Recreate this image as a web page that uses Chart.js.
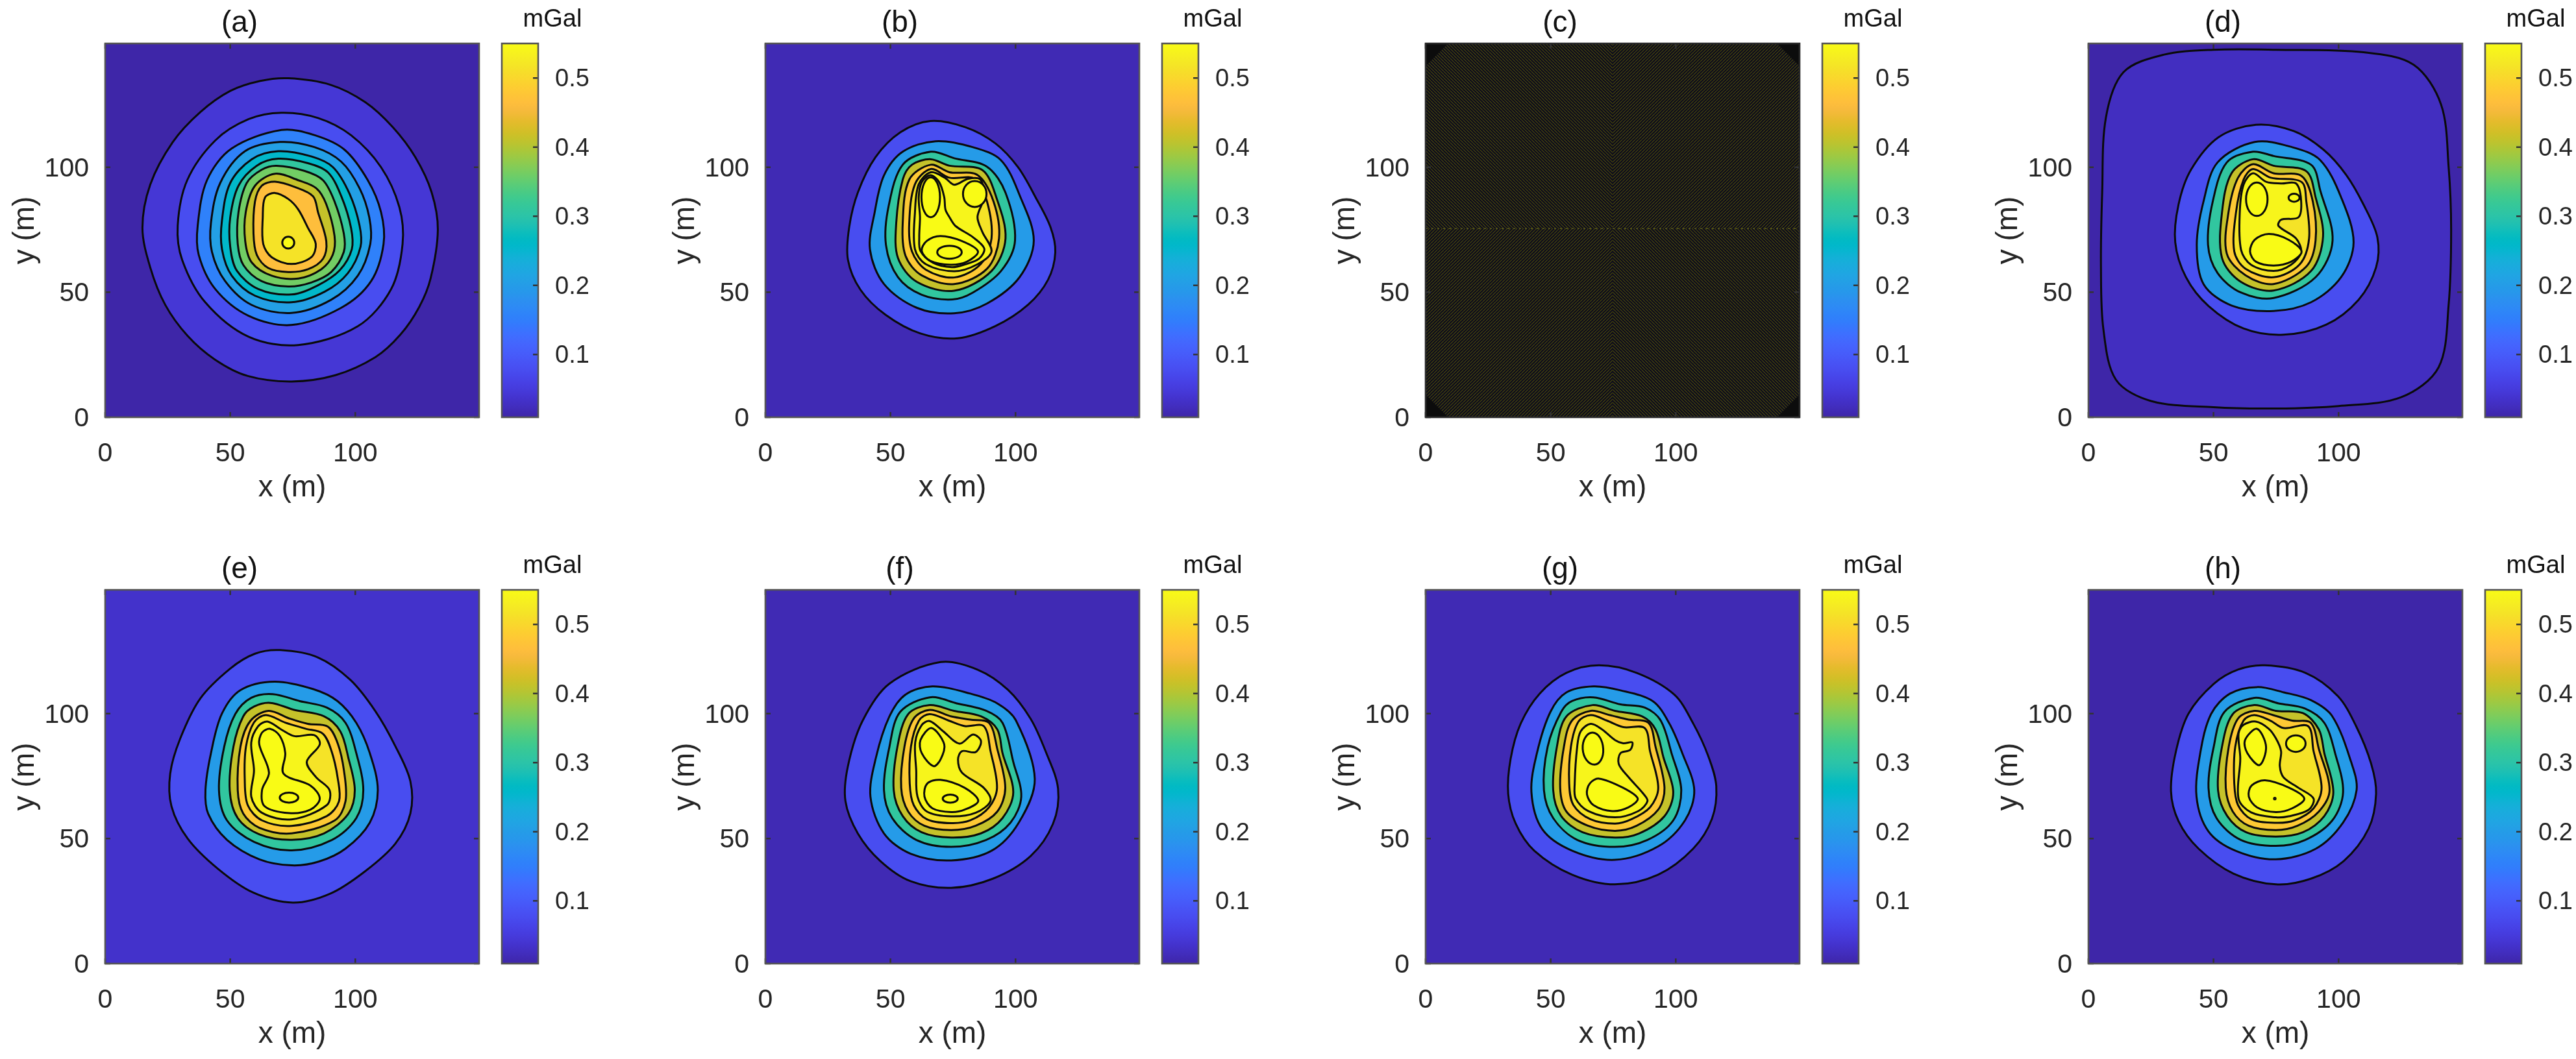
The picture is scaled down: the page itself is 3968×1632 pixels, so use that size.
<!DOCTYPE html>
<html>
<head>
<meta charset="utf-8">
<title>Gravity anomaly maps</title>
<script src="https://cdn.jsdelivr.net/npm/chart.js@4"></script>
<style>
  html, body { margin: 0; padding: 0; background: #fff; overflow: hidden; }
  #page { position: relative; width: 3968px; height: 1632px; background: #fff; }
  canvas { position: absolute; }
</style>
</head>
<body>
<div id="page"></div>
<script>
// ── Data (x, y in metres, levels in mGal) ──
const panelTitles = ['(a)', '(b)', '(c)', '(d)', '(e)', '(f)', '(g)', '(h)'];
const axisMax = 149.5;
const axisTicks = [0, 50, 100];
const colorbarRange = [0.0092, 0.55];
const colorbarTicks = [0.1, 0.2, 0.3, 0.4, 0.5];
const unitLabel = 'mGal';
const xLabel = 'x (m)';
const yLabel = 'y (m)';

const levelsA = [0.012, 0.045, 0.085, 0.16, 0.21, 0.26, 0.31, 0.36, 0.41, 0.46, 0.51, 0.55];
const contoursA = [
  [[73.2,135.6],[90,133],[104,126],[115,116],[124,104],[130.5,90],[133,75],[130.1,55.5],[125.5,44],[118,33],[108,24],[92,16.8],[74.5,14.3],[57,16.5],[44,23],[33,32.5],[24,45],[18,60],[14.9,75.7],[18,93],[27,110],[38,122],[50,130.5],[62,134.5]],
  [[70.5,121.8],[85.1,119.7],[98.3,112.8],[110.3,100],[117.6,84.1],[118.9,69.3],[114.3,51.2],[101,36.4],[77.2,28.9],[57.3,32.2],[40,46],[30.8,62.9],[29,76.7],[32.8,94.8],[44,110.7],[57.3,119.2]],
  [[70.5,114.9],[83.8,112.8],[95.7,107],[105,94.8],[110.3,82],[111.3,69.3],[106.3,54.4],[94.4,43.8],[74.5,36.9],[57.3,40.6],[44,51.3],[37.4,65],[37,76.7],[40.7,94.8],[50.6,107.5]],
  [[69.9,110.1],[83.8,108],[94.4,102.2],[101.7,91.6],[105.6,79.9],[106,69.3],[101,56.6],[90.4,47],[74.5,41.7],[58.6,44.9],[48,54.4],[42.7,66.1],[42.3,77.8],[46,93.7],[55.9,106.4]],
  [[69.2,106.4],[82.5,104.3],[91.1,100],[97.7,89.4],[101.7,76.7],[102.1,68.2],[97,57.6],[87.7,50.2],[74.5,46],[59.9,48.6],[50.6,56.6],[46.7,67.2],[46.7,78.8],[50,93.7],[58.6,103.2]],
  [[69.2,103.4],[81.1,101.6],[89.1,97.9],[94.4,88.4],[98.3,75.7],[98.6,67.2],[93.7,58.7],[85.1,52.8],[74.5,49.1],[61.2,51.3],[52.6,58.7],[50,68.2],[50,79.9],[53.3,92.6],[60.6,100.6]],
  [[68.5,100.6],[79.8,98.5],[87.1,94.8],[91.7,86.3],[95.4,73.5],[95.4,66.1],[90.4,58.1],[82.4,53.9],[73.2,52.3],[62.6,54.4],[55.3,60.8],[53,69.3],[53.3,82],[56.6,93.7],[62.6,99]],
  [[67.9,97.4],[77.2,94.8],[84.4,91.6],[88.4,85.2],[91.7,72.5],[91,65],[86.4,59.2],[77.2,55.5],[66.6,56.6],[58.6,61.9],[56,70.4],[56.2,82],[59.9,92.6]],
  [[67.9,94.2],[75.8,92.1],[83.1,88.4],[85.1,82],[88.4,70.4],[87.1,63.4],[81.1,59.2],[73.2,58.1],[65.2,59.7],[60.6,65],[59.3,73.5],[59.9,86.3],[62.6,92.6]],
  [[67.9,89.7],[73.2,87.3],[77.2,83.1],[81.1,75.7],[84.2,69.3],[82.4,64],[74.5,61.3],[66.6,64],[63.2,69.3],[63,79.9],[63.9,87.9]],
  [[73.2,72.2],[75.6,69.8],[73.2,67.5],[70.8,69.8]]
];

const levelsB = [0.02, 0.085, 0.2, 0.31, 0.41, 0.48, 0.515, 0.535, 0.55, 0.55, 0.55, 0.55, 0.55];
const contoursB = [
  [[66,118.5],[80,116],[92,109.5],[101,100],[108,88],[114,76],[115.9,66],[113,55],[105,45],[92,36.5],[77,31.6],[62,33.5],[48,41],[38,51],[33,63],[33.5,76],[37,90],[44,104],[54,114]],
  [[68,110.4],[83,108],[94.2,102.8],[101.6,88.9],[107.3,70.7],[101.6,56],[88.6,45.5],[75.5,41.6],[60.5,43.8],[47.4,53.3],[41.8,67.2],[43.7,82],[47.4,96.7],[54.9,106.2]],
  [[66.1,106.2],[75.5,103.6],[88.6,100.2],[96,89.8],[99.8,70.7],[94.2,58.5],[83,49.9],[74.7,47.1],[62.4,49],[53,56],[48.2,68.9],[49.3,84.6],[54.9,101]],
  [[66.1,103.2],[73.6,100.6],[86.7,98.9],[92.3,88],[96,71.5],[90.4,58.5],[75.5,50.6],[60.5,54.2],[53,63.7],[52.3,77.6],[54.9,95],[58.6,101]],
  [[66.1,101],[73.6,98],[84.8,96.9],[91.2,86.3],[93.4,71.5],[88.6,59.4],[75.5,53.3],[62.4,56.8],[56,64.6],[54.9,77.6],[57.5,95]],
  [[66.1,99.3],[73.6,95.8],[83.7,95.4],[88.6,86.3],[90.4,71.5],[86,61.2],[75.5,55.9],[64.2,59],[58.6,66.3],[57.5,77.6],[59.8,93.2]],
  [[66.1,98],[71.7,95.8],[75.5,93],[81.1,95.4],[86,95],[87.4,88],[84.8,80.2],[86.7,74.2],[90.4,66.3],[84.8,61.2],[75.5,58.4],[64.2,61.2],[59.8,67.2],[59.8,82],[61.3,93.2]],
  [[66,96.8],[69.5,94],[71.5,88],[72,83],[73.6,80],[76,76.5],[83,72],[87.5,67.5],[85.5,63.5],[80,61.2],[74.5,60],[67,61.8],[62,66.5],[61.5,72],[61.8,80],[61.3,88],[62.5,94]],
  [[66.1,96],[69.8,88],[66.1,80],[62.4,88]],
  [[83.7,94.5],[88.4,89.3],[83.7,84.1],[79,89.3]],
  [[70,72.5],[78.5,70.5],[85,66.3],[80.5,62.2],[74,61],[66,62.5],[62.5,66.5],[64.5,70.5]],
  [[73.6,68.6],[78.5,66],[73.6,63.4],[68.7,66]]
];

const stripeDirsC = ['/', '\\', '\\', '/'];
const baseC = [[0,0],[149.5,0],[149.5,149.5],[0,149.5]];
const regionsC = [
  [[74.8,75.5],[149.5,75.5],[149.5,149.5],[74.8,149.5]],
  [[74.8,0],[149.5,0],[149.5,75.5],[74.8,75.5]],
  [[0,75.5],[74.8,75.5],[74.8,149.5],[0,149.5]],
  [[0,0],[74.8,0],[74.8,75.5],[0,75.5]]
];
const cornersC = [
  [[0,149.5],[9,149.5],[0,140.5]],
  [[140.5,149.5],[149.5,149.5],[149.5,140.5]],
  [[0,0],[9,0],[0,9]],
  [[140.5,0],[149.5,0],[149.5,9]]
];
const seamC = [[0,75.5],[149.5,75.5]];

const levelsD = [0.012, 0.03, 0.085, 0.2, 0.31, 0.41, 0.48, 0.515, 0.54, 0.55, 0.55, 0.55, 0.55];
const contoursD = [
  [[75,147],[110,146],[130,141],[141,125],[144,100],[145,75],[144,45],[140,20],[125,8],[100,4.5],[75,3.5],[50,4],[25,6.5],[11,15],[6,35],[5,60],[5.5,90],[7,120],[14,138],[30,145],[50,147]],
  [[67,117],[82,114.5],[94,107],[103,97],[110,85],[115.5,72],[115,60],[108,47],[95,37],[78,33],[62,35.5],[48,44.5],[39,56],[34.7,70],[36,85],[41,99],[52,112]],
  [[66.5,110.1],[81.5,108],[92.7,102.8],[101,88],[106,70],[101,56],[89,46],[74,42.5],[57.2,44.7],[46,53.3],[43.3,69],[46,86.3],[51.6,101.9]],
  [[65.8,106.2],[74,104.5],[89,101],[92.7,90.6],[97.6,70.7],[90.8,56],[74,47.7],[60.9,49.9],[51.6,57.7],[47.8,69],[49.7,86.3],[55.3,101.9]],
  [[65.8,103.2],[74,100.6],[87.1,98.4],[90.8,88],[93.8,72.4],[89,58.5],[74,50.7],[60.9,54.2],[53.4,63.7],[53.4,82],[57.2,97.6]],
  [[65.8,101.2],[74,97.6],[85.2,96.5],[89.7,86.3],[90.8,70.7],[87.1,60.3],[74,53.3],[62.8,56.8],[55.3,65.5],[56,82],[59.8,95.8]],
  [[65.8,99.3],[72.9,95.8],[85.2,94.1],[87.1,86.3],[88.2,71.5],[84.5,61.2],[74,56],[62.8,59.4],[58.3,66.3],[59,82],[62,95]],
  [[65.8,97.6],[71,94.2],[77,93.5],[83,93.5],[85,87],[84,80],[77,79],[76,76.5],[83,71.5],[85,66],[81,61],[74,58.5],[65,61],[61,67],[60.5,82],[62,93]],
  [[67.3,93.9],[71.6,87.2],[67.3,80.5],[63,87.2]],
  [[82.2,89.4],[84.4,87.8],[82.2,86.2],[80,87.8]],
  [[72.1,73.3],[80,71],[85.2,66.3],[81,62.2],[74,60.7],[67,62.2],[64.6,66.3],[66.5,71]]
];

const levelsE = [0.043, 0.085, 0.2, 0.31, 0.41, 0.48, 0.515, 0.54, 0.55, 0.55, 0.55];
const contoursE = [
  [[70,125.4],[85,122.5],[98,113.5],[108,101],[116,87],[122,73],[122,60],[116,48],[104,37],[90,28],[75,24.4],[59,28.5],[45,38],[33,50],[26.5,63],[26,76],[30,90],[38,106],[50,118],[60,124]],
  [[67.7,112.8],[83.2,109.8],[92.9,105],[100.4,96.3],[105.8,84.2],[109,69.4],[105.8,56.4],[96.1,46],[85.4,40.8],[74.6,39.3],[61.7,41.7],[48.7,49.5],[41.2,59.9],[40.1,69.4],[42.3,84.2],[46.6,99.8],[54.1,109.4]],
  [[67,107.8],[77.8,105],[88.6,102.4],[96.1,96.3],[100.4,84.2],[103.2,69.4],[100.4,58.2],[90.7,49.5],[74.6,45.3],[59.5,48.7],[48.7,57.3],[45.5,69.4],[47.6,86.8],[52,99.8],[58.4,106.3]],
  [[66,104.3],[75.6,101.5],[87.5,98.9],[94,92.9],[97.2,82.4],[99.8,69.4],[97.2,59.9],[87.5,52.1],[74.6,49.5],[61.7,51.7],[53,58.2],[49.8,69.4],[51.3,86.8],[55.2,98.9],[59.5,102.8]],
  [[65.3,101.1],[73.5,98.1],[81,95.9],[89,94.8],[93,88],[95.5,77],[96.1,65],[91.8,57.3],[74.6,52.1],[61.7,54.3],[55.2,60],[53,69.4],[54.1,86.8],[58,97]],
  [[64.3,99.4],[72,96.4],[80,94],[87,92],[90.5,85],[93,74],[93.5,65],[88.6,59],[74.6,55.1],[62.7,57.3],[57,63.4],[55.8,74],[56.3,86.8],[59.5,96.5]],
  [[64.9,96.8],[70.3,93.7],[75.6,91],[83.6,91.4],[85.8,87.7],[80.6,80.7],[84.3,74.6],[89.7,69.4],[88.6,63.4],[74.6,57.7],[62.7,60.3],[58.4,66.8],[59.5,77.2],[58.4,88.5],[61.2,95]],
  [[66,93.9],[69.8,91.1],[72,84.2],[71.3,76],[82.1,71.2],[85.8,66],[82.1,61.6],[73.5,60.2],[63.8,62.9],[62.7,69.4],[65.5,76.4],[61.6,87.7],[62.7,92.4]],
  [[73.5,68.4],[77.2,66.4],[73.5,64.4],[69.8,66.4]]
];

const levelsF = [0.02, 0.085, 0.2, 0.31, 0.41, 0.48, 0.515, 0.54, 0.55, 0.55, 0.55];
const contoursF = [
  [[70,120.6],[85,117.5],[97,109.5],[106,98],[112,85],[117,70],[115,56],[106,43],[91,34],[74.3,30.3],[58,33],[46,41],[37,52],[32,65],[33,79],[38.8,97],[49.6,112]],
  [[66.8,110.9],[81.9,108],[92.7,104.1],[100.2,97.2],[107.7,73.8],[101.3,56.4],[90.5,45.2],[74.3,41.3],[58.2,43.9],[47.4,52.1],[42,66.8],[44.2,82.4],[49.6,98.9],[56,107.6]],
  [[65.7,106.5],[76.5,104.1],[88.3,101.1],[94.8,96.3],[99.1,80.7],[102.3,66.8],[98,56.4],[88.3,49.5],[74.3,46.7],[60.3,49.5],[50.7,58.2],[47.4,69.4],[49.6,86.8],[53.9,100.7]],
  [[65.7,103.4],[75.4,101.1],[86.2,98.9],[92.7,93.7],[94.8,84.2],[99.1,68.6],[94.8,58.2],[86.2,52.1],[74.3,50.4],[62.5,52.5],[54.9,59],[51.3,69.4],[52.8,86.8],[57.1,99.8]],
  [[65.7,101.5],[74.3,98.9],[81.9,97.6],[89.4,96.3],[92.7,85.9],[95.9,70.3],[92.7,60.8],[84,55.1],[74.3,53.4],[63.6,55.1],[57.1,60.8],[54.3,70.3],[55.6,86.8],[59.3,98]],
  [[65.7,99.8],[73.3,97.2],[79.7,95],[87.3,95],[90,85],[92.6,70.3],[89.4,62.5],[81.9,57.3],[74.3,56.2],[64.6,57.7],[59.3,63.4],[57.7,72],[58.2,86.8],[61.4,97.2]],
  [[65.7,97],[71,93],[77.6,88],[83,91.6],[86.2,89],[84,84.6],[78.6,85],[77,81.6],[78.6,76.4],[87.3,70.3],[90,65.1],[84,60.3],[74.3,58.9],[64.6,60.8],[60.8,66.8],[60.3,77.2],[59.9,88.5],[62.5,95.4]],
  [[66.4,94.2],[71.5,87.7],[70,81.6],[67.2,79],[62.5,84.2],[62,89.4]],
  [[70,73.5],[79.7,70.3],[85.1,65.1],[79.7,61.6],[74.3,60.6],[66.8,62.1],[63.6,66.8],[64.7,72]],
  [[73.9,67.6],[76.9,66],[73.9,64.4],[70.9,66]]
];

const levelsG = [0.02, 0.085, 0.2, 0.31, 0.41, 0.48, 0.515, 0.54, 0.55, 0.55];
const contoursG = [
  [[69.3,119.3],[84.3,116.3],[99.4,107.6],[107,96],[113,83],[116.2,71],[114.5,58],[107,46],[93,35.6],[75.7,31.7],[58.5,35.6],[43.4,45.2],[36,56],[33,68],[34,82],[38,96],[45.6,108],[56.3,116.3]],
  [[67.1,110.9],[77.9,109.3],[90.8,105],[97.3,96.3],[102.6,84.2],[107.4,69.4],[103.7,57.3],[93,46.9],[75.7,41.5],[58.5,45.2],[46.6,53.8],[42.3,68.6],[44.5,84.2],[49.9,100.7],[56.3,108.5]],
  [[67.1,106.5],[77.9,103.7],[87.6,102.4],[94,97.2],[98.3,84.2],[102.2,69.4],[99,57.3],[88.7,49.5],[75.7,46.7],[60.6,49.5],[51,58.2],[47.3,69.4],[48.8,86.8],[54.2,100.7],[58.5,105]],
  [[66.7,103.4],[75.7,101.1],[86.5,98.9],[91.9,93.7],[95.1,82.4],[99,68.6],[95.5,59],[85.4,52.1],[75.7,50.4],[62.8,52.5],[54.2,59],[51,69.4],[52.5,86.8],[56.3,98.9]],
  [[66,101.1],[73.6,99.4],[81.1,97.6],[89.1,96.3],[91.9,86.8],[95.5,70.3],[93,61.6],[84.3,55.1],[75.7,53.1],[65,55.1],[56.3,60.8],[53.8,70.3],[55.3,86.8],[58.5,97.2]],
  [[66,99.4],[72.5,97.2],[79,94.6],[87.6,94.2],[89.7,85],[93,70.3],[89.7,62.5],[82.2,57.7],[75.7,56],[66,57.7],[59.1,63.4],[57.4,72],[58.1,86.8],[61.1,96.8]],
  [[66,95.9],[70.5,93.7],[75.7,89.4],[79,88.1],[82.6,88.5],[81.8,85.5],[77.9,84.2],[77.2,79.9],[81.1,74.6],[87,68],[88.7,65],[85,61],[75.7,58.5],[65,61],[60,66],[59.6,72],[60.6,86.8],[62,92.9]],
  [[66.7,92.4],[71,85.9],[67.5,79.6],[62.8,85.9]],
  [[69.3,74],[79,70.3],[84.8,66],[81.1,62.5],[74.6,61],[67.1,63.4],[64.5,67.7],[65.6,72]]
];

const levelsH = [0.012, 0.085, 0.2, 0.31, 0.41, 0.48, 0.515, 0.54, 0.55, 0.55, 0.55, 0.55];
const contoursH = [
  [[70.6,119.3],[86.7,116.3],[99.7,107],[107,95],[113,80],[115,68],[112,54],[102,41],[89,34],[74.9,31.7],[58,36],[44,46],[36,57],[33,69],[35,85],[40,100],[50.1,111.9],[59.8,117.6]],
  [[67.4,110.6],[78.1,108.5],[88.9,105.4],[97.5,98.9],[105,80.7],[107.2,69.4],[101.8,56.4],[91,46],[74.9,41.7],[58.7,45.2],[47.9,53],[43.2,66.8],[44.7,84.2],[49,99.8],[56.6,108]],
  [[66.3,106.3],[76,104.1],[86.7,102],[94.3,96.3],[98.6,84.2],[101.8,68.6],[97.5,57.3],[86.7,49.5],[74.9,47.1],[60.9,49.5],[51.2,58.2],[48,70.3],[50.1,86.8],[54.4,100.7]],
  [[66.3,103.4],[74.9,101.1],[85.7,100.2],[92.1,93.7],[94.3,84.2],[97.9,68.6],[94.3,59],[85.7,52.5],[74.9,50.8],[63.1,52.5],[55.5,59],[51.8,69.4],[53.4,86.8],[57.7,99.8]],
  [[66.3,101.1],[73.8,99.4],[81.4,97.2],[88.9,96.3],[92.1,85.9],[96.4,69.4],[92.1,60.8],[83.5,55.1],[74.9,53.4],[64.1,55.1],[57.7,60.8],[54.9,70.3],[56.1,86.8],[59.8,98]],
  [[66.3,99.4],[72.7,97.2],[78.1,94.2],[87.8,95],[90,85],[93.2,70.3],[90,62.1],[82.4,57.3],[74.9,56.3],[65.2,57.7],[59.8,63.4],[58.3,72],[58.7,86.8],[62,97.2]],
  [[66.9,96.8],[72,94],[75,90],[77,85],[76.5,79],[78,74.5],[84,70.3],[90,66],[88,61.5],[80,58.9],[74.9,58.5],[65,60.5],[60,66],[60.7,82],[60,92],[62,95.5]],
  [[67.4,93.9],[71,86.8],[68.4,79.4],[63.5,84.2],[62.6,89.4]],
  [[82.9,91.3],[86.8,88],[82.9,84.7],[79,88]],
  [[70.6,73.3],[80.3,70.3],[86.3,66],[81.4,62.1],[74.9,60.6],[67.4,62.5],[64.1,66.8],[65.2,71.2]],
  [[74.5,66.3],[74.8,66],[74.5,65.7],[74.2,66]]
];

// parula colormap, 64 entries
const parula = [
  [.2422,.1504,.6603],[.2504,.1650,.7076],[.2578,.1818,.7511],[.2647,.1978,.7952],[.2706,.2147,.8364],[.2751,.2342,.8710],[.2783,.2559,.8991],[.2803,.2782,.9221],
  [.2813,.3006,.9414],[.2810,.3228,.9579],[.2795,.3447,.9717],[.2760,.3667,.9829],[.2699,.3892,.9906],[.2602,.4123,.9952],[.2440,.4358,.9988],[.2206,.4603,.9973],
  [.1963,.4847,.9892],[.1834,.5074,.9798],[.1786,.5289,.9682],[.1764,.5499,.9520],[.1687,.5703,.9359],[.1540,.5902,.9218],[.1460,.6091,.9079],[.1380,.6276,.8973],
  [.1248,.6459,.8883],[.1113,.6635,.8763],[.0952,.6798,.8598],[.0689,.6948,.8394],[.0297,.7082,.8163],[.0036,.7203,.7917],[.0067,.7312,.7660],[.0433,.7411,.7394],
  [.0964,.7500,.7120],[.1408,.7584,.6842],[.1717,.7670,.6554],[.1938,.7758,.6251],[.2161,.7843,.5923],[.2470,.7918,.5567],[.2906,.7973,.5188],[.3406,.8008,.4789],
  [.3909,.8029,.4354],[.4456,.8024,.3909],[.5044,.7993,.3480],[.5616,.7942,.3045],[.6174,.7876,.2612],[.6720,.7793,.2227],[.7242,.7698,.1910],[.7738,.7598,.1646],
  [.8203,.7498,.1535],[.8634,.7406,.1596],[.9035,.7330,.1774],[.9393,.7288,.2100],[.9728,.7298,.2394],[.9956,.7434,.2371],[.9970,.7659,.2199],[.9952,.7893,.2028],
  [.9892,.8136,.1885],[.9786,.8386,.1766],[.9676,.8639,.1643],[.9610,.8890,.1537],[.9597,.9135,.1423],[.9628,.9373,.1265],[.9691,.9606,.1064],[.9769,.9839,.0805]
];

// ── Page layout ──
const FONT = '"Liberation Sans", Arial, sans-serif';
const TEXT_COLOR = '#262626';
const PLOT_LEFTS = [162, 1179, 2196, 3217];
const ROW_TOPS = [0, 842];
const PLOT_W = 576;
const PLOT_H = 576;
const MARGIN_X = 162;
const MARGIN_BOTTOM = 138;
const TITLE_H = 67;
const BAR_OFFSET = 611;
const BAR_W = 56;
const BAR_MARGIN = 100;
const BAR_FOOT = 50;   // has to stay above the axis' own label padding

function rgbOf(c) {
  return `rgb(${Math.round(c[0] * 255)},${Math.round(c[1] * 255)},${Math.round(c[2] * 255)})`;
}

function levelColor(v) {
  const t = (v - colorbarRange[0]) / (colorbarRange[1] - colorbarRange[0]);
  return rgbOf(parula[Math.max(0, Math.min(63, Math.floor(t * 64)))]);
}

function toPoints(list) {
  return list.map(p => ({ x: p[0], y: p[1] }));
}

function stripePattern(dir) {
  const size = 5;
  const tile = document.createElement('canvas');
  tile.width = tile.height = size;
  const g = tile.getContext('2d');
  g.fillStyle = '#0b0a1c';
  g.fillRect(0, 0, size, size);
  g.strokeStyle = '#44430c';
  g.lineWidth = 1.4;
  for (let k = -size; k <= size; k += size) {
    g.beginPath();
    if (dir === '/') { g.moveTo(k, size); g.lineTo(k + size, 0); }
    else { g.moveTo(k, 0); g.lineTo(k + size, size); }
    g.stroke();
  }
  return g.createPattern(tile, 'repeat');
}

// Closes each contour into a loop and paints its inside
const closedFill = {
  id: 'closedFill',
  afterDatasetUpdate(chart, args) {
    const ds = chart.data.datasets[args.index];
    if (ds.regionFill) {
      const line = args.meta.dataset;
      line._loop = true;
      line._fullLoop = true;
    }
  },
  beforeDatasetDraw(chart, args) {
    const ds = chart.data.datasets[args.index];
    if (!ds.regionFill) return;
    const line = args.meta.dataset;
    const a = chart.chartArea;
    line.updateControlPoints(a, 'x');
    const ctx = chart.ctx;
    ctx.save();
    ctx.beginPath();
    ctx.rect(a.left, a.top, a.width, a.height);
    ctx.clip();
    ctx.beginPath();
    line.path(ctx);
    ctx.closePath();
    ctx.fillStyle = ds.regionFill;
    ctx.fill();
    ctx.restore();
  }
};

// Box around the plot with MATLAB style inner ticks
const axisFrame = {
  id: 'axisFrame',
  afterDatasetsDraw(chart, args, opts) {
    const a = chart.chartArea;
    const ctx = chart.ctx;
    ctx.save();
    ctx.strokeStyle = opts.tickColor;
    ctx.lineWidth = 2.5;
    const len = 8;
    if (opts.allSides) {
      chart.scales.x.ticks.forEach(t => {
        const px = chart.scales.x.getPixelForValue(t.value);
        ctx.beginPath();
        ctx.moveTo(px, a.bottom); ctx.lineTo(px, a.bottom - len);
        ctx.moveTo(px, a.top); ctx.lineTo(px, a.top + len);
        ctx.stroke();
      });
    }
    chart.scales.y.ticks.forEach(t => {
      const py = chart.scales.y.getPixelForValue(t.value);
      ctx.beginPath();
      ctx.moveTo(a.right, py); ctx.lineTo(a.right - len, py);
      if (opts.allSides) { ctx.moveTo(a.left, py); ctx.lineTo(a.left + len, py); }
      ctx.stroke();
    });
    ctx.strokeStyle = opts.boxColor;
    ctx.lineWidth = 2.6;
    ctx.strokeRect(a.left, a.top, a.width, a.height);
    ctx.restore();
  }
};

function addCanvas(left, top, width, height) {
  const c = document.createElement('canvas');
  c.width = width;
  c.height = height;
  c.style.left = left + 'px';
  c.style.top = top + 'px';
  c.style.width = width + 'px';
  c.style.height = height + 'px';
  document.getElementById('page').appendChild(c);
  return c;
}

function contourDatasets(levels, contours) {
  const rect = [[0, 0], [axisMax, 0], [axisMax, axisMax], [0, axisMax]];
  const sets = [{
    data: toPoints(rect), regionFill: levelColor(levels[0]),
    showLine: true, pointRadius: 0, borderWidth: 0, tension: 0
  }];
  contours.forEach((c, i) => {
    sets.push({
      data: toPoints(c), regionFill: levelColor(levels[i + 1]),
      showLine: true, pointRadius: 0, borderColor: '#0a0a0a', borderWidth: 3,
      tension: c.length <= 4 ? 0.55 : 0.33   // four points make an ellipse
    });
  });
  return sets.reverse();   // dataset 0 is painted last
}

function stripeDatasets() {
  const sets = [{ data: toPoints(baseC), regionFill: '#1a1914', showLine: true, pointRadius: 0, borderWidth: 0, tension: 0 }];
  regionsC.forEach((r, i) => {
    sets.push({ data: toPoints(r), regionFill: stripePattern(stripeDirsC[i]), showLine: true, pointRadius: 0, borderWidth: 0, tension: 0 });
  });
  cornersC.forEach(r => {
    sets.push({ data: toPoints(r), regionFill: '#0c0c0c', showLine: true, pointRadius: 0, borderWidth: 0, tension: 0 });
  });
  sets.push({ data: toPoints(seamC), showLine: true, pointRadius: 0, borderColor: '#55551a', borderWidth: 1.6, borderDash: [3, 6], tension: 0 });
  return sets.reverse();
}

function linearAxis(position, size, label, titlePad) {
  return {
    type: 'linear',
    position,
    min: 0,
    max: axisMax,
    afterBuildTicks: axis => { axis.ticks = axisTicks.map(v => ({ value: v })); },
    afterFit: axis => { if (position === 'left') axis.width = size; else axis.height = size; },
    grid: { display: false },
    border: { display: false },
    ticks: {
      color: TEXT_COLOR,
      font: { family: FONT, size: 41 },
      padding: position === 'left' ? 17 : 24,
      labelOffset: position === 'left' ? 2.5 : 0,
      maxRotation: 0,
      autoSkip: false
    },
    title: {
      display: true,
      text: label,
      color: TEXT_COLOR,
      font: { family: FONT, size: 46 },
      padding: titlePad
    }
  };
}

function drawPanel(idx, datasets) {
  const col = idx % 4;
  const row = Math.floor(idx / 4);
  const canvas = addCanvas(PLOT_LEFTS[col] - MARGIN_X, ROW_TOPS[row], PLOT_W + 2 * MARGIN_X, TITLE_H + PLOT_H + MARGIN_BOTTOM);
  new Chart(canvas, {
    type: 'scatter',
    data: { datasets },
    plugins: [closedFill, axisFrame],
    options: {
      responsive: false,
      animation: false,
      devicePixelRatio: 1,
      events: [],
      layout: { autoPadding: false, padding: { right: MARGIN_X } },
      scales: {
        x: linearAxis('bottom', MARGIN_BOTTOM, xLabel, { top: 0, bottom: 1 }),
        y: linearAxis('left', MARGIN_X, yLabel, { top: 12, bottom: 0 })
      },
      plugins: {
        legend: { display: false },
        tooltip: { enabled: false },
        title: {
          display: true,
          text: panelTitles[idx],
          color: '#111',
          font: { family: FONT, size: 46, weight: 'normal', lineHeight: 1.2 },
          padding: { top: 9, bottom: 2.8 }
        },
        axisFrame: { allSides: true, tickColor: '#333', boxColor: idx === 2 ? '#2a2a2a' : '#555' }
      }
    }
  });
}

function drawColorbar(idx) {
  const col = idx % 4;
  const row = Math.floor(idx / 4);
  const canvas = addCanvas(PLOT_LEFTS[col] + BAR_OFFSET - BAR_MARGIN, ROW_TOPS[row], BAR_W + 2 * BAR_MARGIN, TITLE_H + PLOT_H + BAR_FOOT);
  new Chart(canvas, {
    type: 'bar',
    data: {
      labels: [unitLabel],
      datasets: [{
        data: [colorbarRange],
        barPercentage: 1,
        categoryPercentage: 1,
        backgroundColor: ctx => {
          const a = ctx.chart.chartArea;
          if (!a) return '#000';
          const grad = ctx.chart.ctx.createLinearGradient(0, a.bottom, 0, a.top);
          parula.forEach((c, i) => grad.addColorStop(i / 63, rgbOf(c)));
          return grad;
        }
      }]
    },
    plugins: [axisFrame],
    options: {
      responsive: false,
      animation: false,
      devicePixelRatio: 1,
      events: [],
      layout: { autoPadding: false, padding: { left: BAR_MARGIN } },
      scales: {
        x: {
          grid: { display: false },
          border: { display: false },
          ticks: { display: false },
          afterFit: axis => { axis.height = BAR_FOOT; }
        },
        y: {
          position: 'right',
          min: colorbarRange[0],
          max: colorbarRange[1],
          afterBuildTicks: axis => { axis.ticks = colorbarTicks.map(v => ({ value: v })); },
          afterFit: axis => { axis.width = BAR_MARGIN; },
          grid: { display: false },
          border: { display: false },
          ticks: {
            color: TEXT_COLOR,
            font: { family: FONT, size: 38 },
            padding: 18,
            labelOffset: 2.5,
            callback: v => v.toFixed(1)
          }
        }
      },
      plugins: {
        legend: { display: false },
        tooltip: { enabled: false },
        title: {
          display: true,
          text: unitLabel,
          color: '#111',
          font: { family: FONT, size: 38, weight: 'normal', lineHeight: 1.2 },
          padding: { top: 8, bottom: 13.4 }
        },
        axisFrame: { allSides: false, tickColor: '#333', boxColor: '#555' }
      }
    }
  });
}

const panelData = [
  contourDatasets(levelsA, contoursA),
  contourDatasets(levelsB, contoursB),
  stripeDatasets(),
  contourDatasets(levelsD, contoursD),
  contourDatasets(levelsE, contoursE),
  contourDatasets(levelsF, contoursF),
  contourDatasets(levelsG, contoursG),
  contourDatasets(levelsH, contoursH)
];

panelData.forEach((sets, i) => {
  drawPanel(i, sets);
  drawColorbar(i);
});
</script>
</body>
</html>
